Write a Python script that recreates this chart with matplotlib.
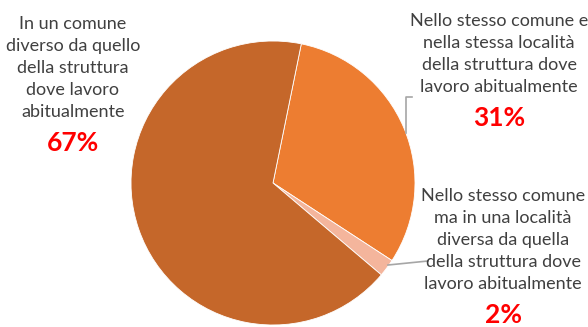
import numpy as np
import matplotlib
matplotlib.use("Agg")
import matplotlib.pyplot as plt

# Slice data (clockwise from the top)
labels = [
    "Nello stesso comune e\nnella stessa località\ndella struttura dove\nlavoro abitualmente",
    "Nello stesso comune\nma in una località\ndiversa da quella\ndella struttura dove\nlavoro abitualmente",
    "In un comune\ndiverso da quello\ndella struttura\ndove lavoro\nabitualmente",
]
values = [31, 2, 67]
pct_labels = ["31%", "2%", "67%"]
colors = ["#ED7D31", "#F4B59C", "#C5672A"]

W, H = 588, 327
fig = plt.figure(figsize=(W / 100, H / 100), dpi=100)

# pie geometry in pixels
cx, cy, r = 273, 183, 142
ax = fig.add_axes([(cx - r) / W, (H - cy - r) / H, 2 * r / W, 2 * r / H])
ax.pie(values, colors=colors, startangle=78.5, counterclock=False,
       wedgeprops=dict(linewidth=0.6, edgecolor="white"))
ax.set_xlim(-1, 1)
ax.set_ylim(-1, 1)
ax.set_aspect("equal")
ax.axis("off")

font = "Lato"
txt_col = "#404040"
red = "#FF0000"

def px(x, y):
    return x / W, 1 - y / H

# text blocks: (center x, first line y, percent y)
pos = [(499, 22, 118), (503, 197, 315), (73, 25, 143)]
for lab, pct, (x, y0, yp) in zip(labels, pct_labels, pos):
    fig.text(*px(x, y0 - 9), lab, ha="center", va="top", fontsize=13,
             family=font, color=txt_col, linespacing=1.47)
    fig.text(*px(x, yp), pct, ha="center", va="center", fontsize=19,
             family=font, fontweight="bold", color=red)

# leader lines
def to_data(x, y):
    return (x - cx) / r, (cy - y) / r

lx = 406
ly = cy - np.sqrt(r ** 2 - (lx - cx) ** 2)
p0 = to_data(lx, ly)
p1 = to_data(lx, 97)
p2 = to_data(412, 97)
ax.plot([p0[0], p1[0], p2[0]], [p0[1], p1[1], p2[1]], color="#A6A6A6",
        lw=1.2, clip_on=False)

q0 = to_data(388, 265)
q1 = to_data(428, 261)
ax.plot([q0[0], q1[0]], [q0[1], q1[1]], color="#A6A6A6", lw=1.2, clip_on=False)

fig.savefig("out.png", dpi=100)
